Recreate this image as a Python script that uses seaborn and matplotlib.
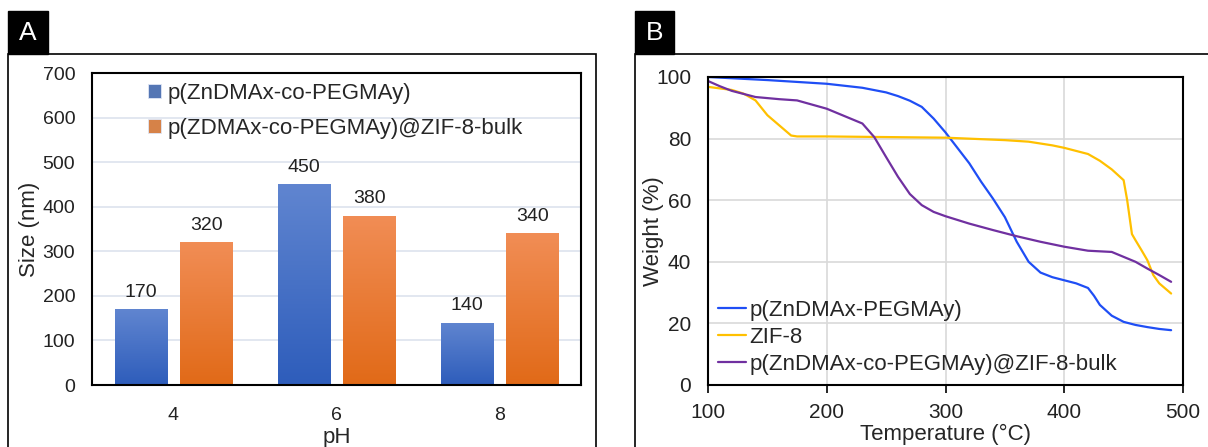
import numpy as np
import pandas as pd
import matplotlib
matplotlib.use("Agg")
import matplotlib.pyplot as plt
import seaborn as sns
from matplotlib.colors import LinearSegmentedColormap
from matplotlib.patches import Rectangle

# Панель A: размер частиц при разных pH
ph = ["4", "6", "8"]
size_polymer = [170, 450, 140]
size_composite = [320, 380, 340]
bar_series = ["p(ZnDMAx-co-PEGMAy)", "p(ZDMAx-co-PEGMAy)@ZIF-8-bulk"]

# Панель B: ТГА кривые
temp_polymer = [100, 150, 200, 230, 250, 260, 270, 280, 290, 300, 310, 320, 330, 340, 350,
                360, 370, 380, 390, 400, 410, 420, 425, 430, 440, 450, 460, 470, 480, 490]
weight_polymer = [100, 99, 97.8, 96.5, 95, 93.8, 92.3, 90.3, 86.5, 82, 77, 72, 66, 60.5, 54.5,
                  46.5, 40, 36.5, 35, 34, 33, 31.5, 29, 26, 22.5, 20.5, 19.5, 18.8, 18.2, 17.8]

temp_zif = [100, 120, 130, 140, 150, 160, 170, 175, 200, 250, 300, 350, 370, 390, 400, 420,
            430, 440, 450, 453, 457, 460, 465, 470, 475, 480, 490]
weight_zif = [96.8, 95.8, 94.6, 92.4, 87.6, 84.3, 81, 80.7, 80.7, 80.5, 80.3, 79.5, 79, 77.8,
              77, 75, 72.8, 70, 66.5, 60, 49, 47, 43.8, 40.5, 35.7, 33, 29.7]

temp_comp = [100, 110, 120, 140, 160, 175, 200, 220, 230, 240, 250, 260, 270, 280, 290, 300,
             320, 340, 360, 380, 400, 420, 440, 450, 460, 470, 480, 490]
weight_comp = [98.7, 97, 95.5, 93.5, 92.8, 92.4, 89.7, 86.5, 84.9, 80.5, 74, 67.6, 62, 58.4,
               56.2, 54.8, 52.4, 50.3, 48.3, 46.5, 44.9, 43.6, 43.2, 41.6, 40, 37.8, 35.7, 33.5]

line_labels = ["p(ZnDMAx-PEGMAy)", "ZIF-8", "p(ZnDMAx-co-PEGMAy)@ZIF-8-bulk"]

sns.set_theme(style="white")
plt.rcParams['font.family'] = ['Liberation Sans', 'DejaVu Sans']

fig = plt.figure(figsize=(12.08, 4.47), dpi=100)
W, H = 1208, 447


def px_box(x0, y0, x1, y1):
    return [x0 / W, 1 - y1 / H, (x1 - x0) / W, (y1 - y0) / H]


# рамки панелей и метки A/B
for (fx0, fx1, lx1, letter) in [(8, 596, 48, "A"), (635, 1215, 674, "B")]:
    fx0f, fy0f, fw, fh = px_box(fx0, 54, fx1, 460)
    fig.patches.append(Rectangle((fx0f, fy0f), fw, fh, transform=fig.transFigure,
                                 fill=False, edgecolor="black", lw=1.2))
    lx0f, ly0f, lw_, lh = px_box(fx0, 11, lx1, 54)
    fig.patches.append(Rectangle((lx0f, ly0f), lw_, lh, transform=fig.transFigure,
                                 facecolor="black", edgecolor="black"))
    fig.text(lx0f + lw_ / 2, ly0f + lh / 2, letter, color="white", fontsize=19,
             ha="center", va="center")

# ---------- Панель A ----------
axA = fig.add_axes(px_box(92, 73, 581, 385))
df = pd.DataFrame({
    "pH": ph * 2,
    "Size": size_polymer + size_composite,
    "Sample": [bar_series[0]] * 3 + [bar_series[1]] * 3,
})
sns.barplot(data=df, x="pH", y="Size", hue="Sample", ax=axA, width=0.8, gap=0.2,
            palette=["#4472C4", "#ED7D31"], edgecolor="#dfe6f5", linewidth=0.6)

grads = [LinearSegmentedColormap.from_list("b", ["#2E5DBB", "#6085D0"]),
         LinearSegmentedColormap.from_list("o", ["#E16A18", "#F18D55"])]
for ci, cont in enumerate(axA.containers):
    for bar in cont:
        x0, y0 = bar.get_x(), bar.get_y()
        w, h = bar.get_width(), bar.get_height()
        im = axA.imshow(np.linspace(0, 1, 100).reshape(-1, 1), cmap=grads[ci], origin="lower",
                        extent=[x0, x0 + w, y0, y0 + h], aspect="auto", zorder=bar.get_zorder() + 0.1)
        im.set_clip_path(bar)
    axA.bar_label(cont, padding=6, fontsize=14, color="#222222")

axA.set_xlim(-0.5, 2.5)
axA.set_ylim(0, 700)
axA.set_yticks(range(0, 701, 100))
axA.yaxis.grid(True, color="#dde3ee", lw=1.2)
axA.set_axisbelow(True)
axA.tick_params(axis="both", length=0, labelsize=14, colors="#222222")
axA.tick_params(axis="x", pad=16)
axA.tick_params(axis="y", pad=12)
for s in axA.spines.values():
    s.set_color("black")
    s.set_linewidth(1.5)
axA.set_xlabel("pH", fontsize=16)
axA.set_ylabel("Size (nm)", fontsize=16)
axA.xaxis.set_label_coords(0.5, -0.135)
axA.yaxis.set_label_coords(-0.106, 0.5)
axA.legend(loc="upper left", bbox_to_anchor=(0.087, 1.01), frameon=False, fontsize=16,
           handlelength=0.6, handleheight=0.6, handletextpad=0.3, labelspacing=0.6,
           borderaxespad=0.2)

# ---------- Панель B ----------
axB = fig.add_axes(px_box(708, 77, 1183, 385))
colors = ["#1F4EF5", "#FFC000", "#7030A0"]
for t, wgt, lab, c in zip([temp_polymer, temp_zif, temp_comp],
                          [weight_polymer, weight_zif, weight_comp], line_labels, colors):
    sns.lineplot(x=t, y=wgt, ax=axB, color=c, lw=1.6, label=lab)

axB.set_xlim(100, 500)
axB.set_ylim(0, 100)
axB.set_xticks(range(100, 501, 100))
axB.set_yticks(range(0, 101, 20))
axB.grid(True, color="#d9d9d9", lw=1.2)
axB.set_axisbelow(True)
axB.tick_params(axis="x", length=6, width=1.2, direction="out", bottom=True,
                labelsize=15, pad=7, colors="black", labelcolor="#222222")
axB.tick_params(axis="y", length=0, labelsize=15, pad=12, labelcolor="#222222")
for s in axB.spines.values():
    s.set_color("black")
    s.set_linewidth(1.5)
axB.set_xlabel("Temperature (°C)", fontsize=16)
axB.set_ylabel("Weight (%)", fontsize=16)
axB.xaxis.set_label_coords(0.5, -0.125)
axB.yaxis.set_label_coords(-0.092, 0.5)
axB.legend(loc="lower left", frameon=False, fontsize=16, handlelength=1.25,
           handletextpad=0.15, labelspacing=0.28, borderaxespad=0.05)

fig.savefig("out.png", dpi=100)
